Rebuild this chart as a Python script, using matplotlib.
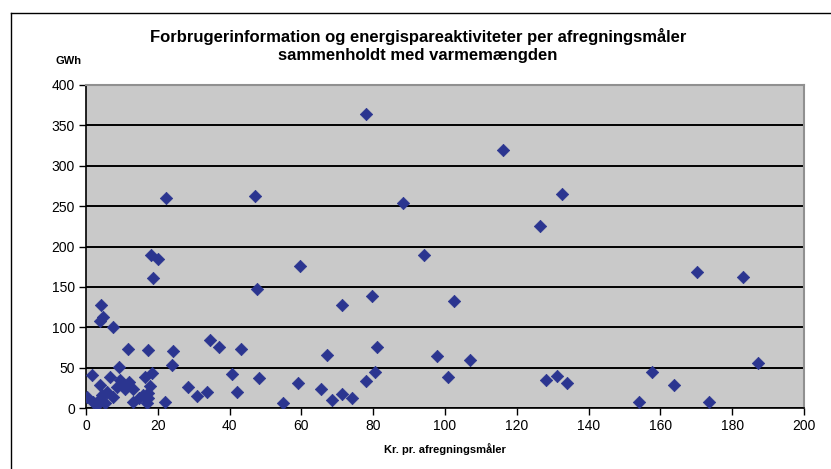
import matplotlib.pyplot as plt
from matplotlib.lines import Line2D

plt.rcParams['font.family'] = ['Liberation Sans', 'DejaVu Sans']

# Kr. pr. afregningsmåler
kr = [0.3, 1.6, 2.0, 3.0, 3.9, 4.5, 5.3, 4.0, 5.8, 6.7, 7.6, 9.3, 9.5, 10.4,
      11.0, 13.2, 13.2, 16.0, 16.4, 16.9, 17.8, 18.3, 17.2, 17.4, 22.0, 23.9,
      28.3, 30.8, 33.6, 12.0, 8.5, 14.8,
      4.2, 4.6, 3.9, 7.6, 11.6, 17.2, 24.1, 18.1, 20.0, 18.7, 22.3,
      34.4, 37.1, 43.1, 40.6, 42.0, 47.7, 48.2, 47.1, 54.8, 59.6, 59.1,
      65.5, 67.0, 68.6, 71.2, 71.2, 74.2, 78.0, 80.5, 79.6, 81.0, 77.9,
      88.4, 94.2, 102.5, 97.9, 107.1, 100.7, 116.1, 126.5, 128.1, 131.1,
      132.5, 134.1, 154.0, 157.6, 163.9, 170.3, 173.6, 182.9, 187.1]
# GWh
gwh = [14, 41, 8, 4, 28.5, 16, 6, 11, 20, 38, 14, 51, 35, 30,
       24, 24, 8, 16, 39, 6, 27, 43, 12, 19, 8, 53,
       26, 15, 20, 32, 26, 12,
       128, 113, 108, 100, 73, 72, 71, 190, 185, 161, 260,
       84, 75, 73, 42, 20, 148, 37, 263, 6, 176, 31,
       24, 66, 10, 17, 128, 13, 34, 44, 139, 76, 364,
       254, 190, 133, 64, 60, 39, 320, 225, 35, 40,
       265, 31, 8, 44, 28, 169, 7, 162, 56]

fig = plt.figure(figsize=(8.31, 4.69), dpi=100)
ax = fig.add_axes([0.1035, 0.130, 0.864, 0.6888])
ax.set_facecolor('#c9c9c9')

ax.scatter(kr, gwh, marker='D', s=40, color='#2b3590', edgecolors='#2b3590',
           linewidths=0.5, zorder=3)

ax.set_xlim(0, 200)
ax.set_ylim(0, 400)
ax.set_xticks(range(0, 201, 20))
ax.set_yticks(range(0, 401, 50))
ax.yaxis.grid(True, color='black', linewidth=1.4)
ax.set_axisbelow(True)

for side in ['top', 'right']:
    ax.spines[side].set_color('#909090')
    ax.spines[side].set_linewidth(1.5)
for side in ['left', 'bottom']:
    ax.spines[side].set_color('black')
    ax.spines[side].set_linewidth(1.2)
ax.tick_params(direction='out', length=5, width=1.0, labelsize=10, pad=3)

ax.set_xlabel('Kr. pr. afregningsmåler', fontsize=8, fontweight='bold', labelpad=7)
fig.text(0.503, 0.903, 'Forbrugerinformation og energispareaktiviteter per afregningsmåler\n'
         'sammenholdt med varmemængden', ha='center', va='center',
         fontsize=12, fontweight='bold', linespacing=1.25)
fig.text(0.083, 0.870, 'GWh', ha='center', va='center', fontsize=8, fontweight='bold')

# outer chart frame
fig.add_artist(Line2D([0.013, 0.013], [0.0, 0.972], color='black', linewidth=1.0))
fig.add_artist(Line2D([0.013, 1.0], [0.972, 0.972], color='black', linewidth=1.0))

fig.savefig('out.png', dpi=100)
